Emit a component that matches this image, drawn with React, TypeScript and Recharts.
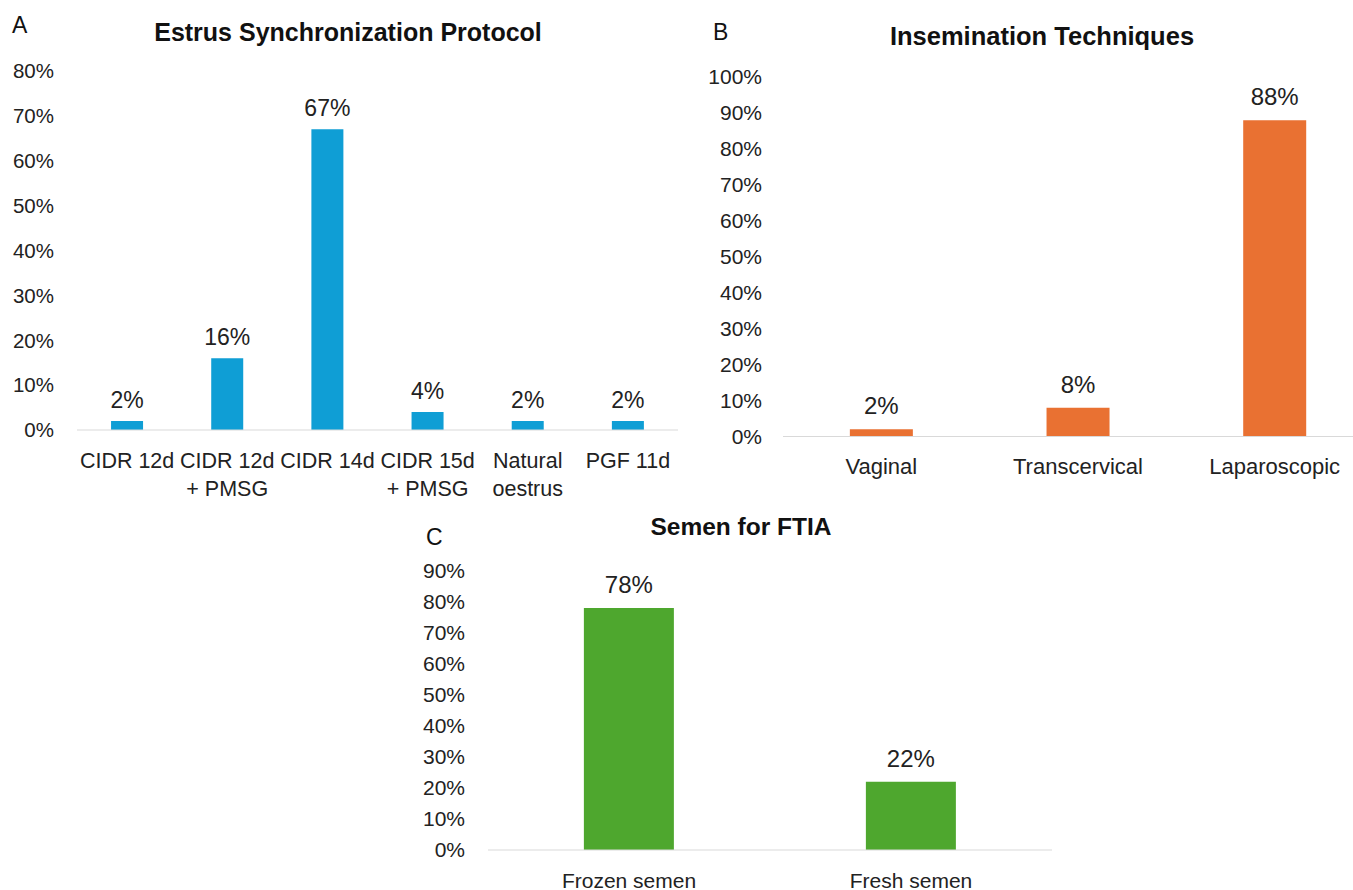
import React from "react";
import { BarChart, Bar, XAxis, YAxis, LabelList } from "recharts";

const aCategories = ["CIDR 12d", "CIDR 12d\n+ PMSG", "CIDR 14d", "CIDR 15d\n+ PMSG", "Natural\noestrus", "PGF 11d"];
const aValues = [2, 16, 67, 4, 2, 2];
const aTicks = [0, 10, 20, 30, 40, 50, 60, 70, 80];

const bCategories = ["Vaginal", "Transcervical", "Laparoscopic"];
const bValues = [2, 8, 88];
const bTicks = [0, 10, 20, 30, 40, 50, 60, 70, 80, 90, 100];

const cCategories = ["Frozen semen", "Fresh semen"];
const cValues = [78, 22];
const cTicks = [0, 10, 20, 30, 40, 50, 60, 70, 80, 90];

const BLUE = "#0F9ED5";
const ORANGE = "#E97132";
const GREEN = "#4EA72E";
const TEXT = "#222222";
const AXIS = "#D9D9D9";
const FONT = "'Liberation Sans', Arial, sans-serif";

const build = (cats: string[], vals: number[]) => cats.map((c, i) => ({ name: c, value: vals[i] }));
const pct = (v: any) => `${v}%`;

function MultiLineTick(props: any) {
  const { x, y, payload, fontSize, firstOffset, lineGap } = props;
  const lines = String(payload.value).split("\n");
  return (
    <text x={x} y={y} textAnchor="middle" fill={TEXT} fontSize={fontSize} fontFamily={FONT}>
      {lines.map((l: string, i: number) => (
        <tspan key={i} x={x} y={y + firstOffset + i * lineGap}>
          {l}
        </tspan>
      ))}
    </text>
  );
}

export default function App() {
  const aData = build(aCategories, aValues);
  const bData = build(bCategories, bValues);
  const cData = build(cCategories, cValues);

  return (
    <div style={{ position: "absolute", left: 0, top: 0, width: 1353, height: 890, background: "#fff", overflow: "hidden", fontFamily: FONT }}>
      {/* Panel A */}
      <div style={{ position: "absolute", left: 0, top: 0, width: 690, height: 500 }}>
        <BarChart width={690} height={500} data={aData} margin={{ top: 71, right: 12, bottom: 10, left: 7 }} barCategoryGap="34%">
          <XAxis
            dataKey="name"
            axisLine={{ stroke: AXIS, strokeWidth: 1.2 }}
            tickLine={false}
            tickSize={0}
            tickMargin={0}
            height={60}
            interval={0}
            tick={(p: any) => <MultiLineTick {...p} fontSize={21.5} firstOffset={37.5} lineGap={28} />}
          />
          <YAxis
            domain={[0, 80]}
            ticks={aTicks}
            tickFormatter={pct}
            axisLine={false}
            tickLine={false}
            tickSize={0}
            tickMargin={23}
            width={70}
            tick={{ fontSize: 20.5, fill: TEXT, fontFamily: FONT }}
          />
          <Bar dataKey="value" fill={BLUE} isAnimationActive={false}>
            <LabelList dataKey="value" position="top" offset={13.5} formatter={pct} fill={TEXT} fontSize={23} fontFamily={FONT} />
          </Bar>
        </BarChart>
      </div>

      {/* Panel B */}
      <div style={{ position: "absolute", left: 680, top: 0, width: 673, height: 500, overflow: "hidden" }}>
        <BarChart width={700} height={500} data={bData} margin={{ top: 77, right: 7, bottom: 9.5, left: 23 }} barCategoryGap="34%">
          <XAxis
            dataKey="name"
            axisLine={{ stroke: AXIS, strokeWidth: 1.2 }}
            tickLine={false}
            tickSize={0}
            tickMargin={0}
            height={54}
            interval={0}
            tick={(p: any) => <MultiLineTick {...p} fontSize={22} firstOffset={37.5} lineGap={28} />}
          />
          <YAxis
            domain={[0, 100]}
            ticks={bTicks}
            tickFormatter={pct}
            axisLine={false}
            tickLine={false}
            tickSize={0}
            tickMargin={21}
            width={80}
            tick={{ fontSize: 21, fill: TEXT, fontFamily: FONT }}
          />
          <Bar dataKey="value" fill={ORANGE} isAnimationActive={false}>
            <LabelList dataKey="value" position="top" offset={15} formatter={pct} fill={TEXT} fontSize={24} fontFamily={FONT} />
          </Bar>
        </BarChart>
      </div>

      {/* Panel C */}
      <div style={{ position: "absolute", left: 380, top: 480, width: 700, height: 410 }}>
        <BarChart width={700} height={410} data={cData} margin={{ top: 90.7, right: 28, bottom: 5, left: 28 }} barCategoryGap="34%">
          <XAxis
            dataKey="name"
            axisLine={{ stroke: AXIS, strokeWidth: 1.2 }}
            tickLine={false}
            tickSize={0}
            tickMargin={0}
            height={35}
            interval={0}
            tick={(p: any) => <MultiLineTick {...p} fontSize={21} firstOffset={37.5} lineGap={28} />}
          />
          <YAxis
            domain={[0, 90]}
            ticks={cTicks}
            tickFormatter={pct}
            axisLine={false}
            tickLine={false}
            tickSize={0}
            tickMargin={23}
            width={80}
            tick={{ fontSize: 21, fill: TEXT, fontFamily: FONT }}
          />
          <Bar dataKey="value" fill={GREEN} isAnimationActive={false}>
            <LabelList dataKey="value" position="top" offset={15} formatter={pct} fill={TEXT} fontSize={24} fontFamily={FONT} />
          </Bar>
        </BarChart>
      </div>

      {/* Titles and panel letters */}
      <svg width={1353} height={890} style={{ position: "absolute", left: 0, top: 0, pointerEvents: "none" }}>
        <g fontFamily={FONT} fill="#111">
          <text x={12} y={33} fontSize={23}>A</text>
          <text x={713} y={40} fontSize={23}>B</text>
          <text x={426} y={545} fontSize={23}>C</text>
          <text x={348} y={40.5} fontSize={25} fontWeight="bold" textAnchor="middle">Estrus Synchronization Protocol</text>
          <text x={1042} y={45} fontSize={25.5} fontWeight="bold" textAnchor="middle">Insemination Techniques</text>
          <text x={741} y={535} fontSize={24.5} fontWeight="bold" textAnchor="middle">Semen for FTIA</text>
        </g>
      </svg>
    </div>
  );
}
